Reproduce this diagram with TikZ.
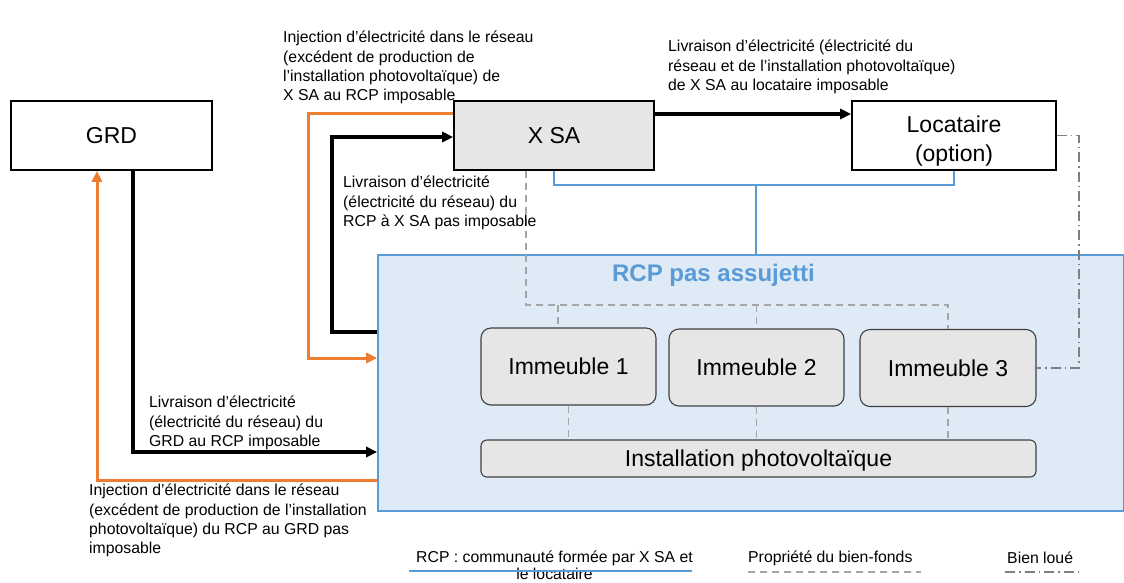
\documentclass[tikz,border=0pt]{standalone}
\usepackage{fontspec}
\setmainfont{Liberation Sans}
\usetikzlibrary{arrows.meta}
\definecolor{orng}{HTML}{ED7D31}
\definecolor{bblue}{HTML}{5B9BD5}
\definecolor{rcpfill}{HTML}{DEEAF6}
\definecolor{boxgray}{HTML}{E7E6E6}
\definecolor{dgray}{HTML}{A5A5A5}
\definecolor{ddgray}{HTML}{7F7F7F}
\begin{document}
\begin{tikzpicture}[x=1pt,y=-1pt,
 box/.style={draw=black,line width=1.6pt,minimum height=69pt,inner sep=0pt,text height=16.5pt,text depth=0pt,font=\fontsize{23}{29}\selectfont},
 bldg/.style={draw=black!75,line width=1.1pt,fill=boxgray,rounded corners=10pt,inner sep=0pt,text height=16.5pt,text depth=0pt,font=\fontsize{23}{29}\selectfont},
 lbl/.style={anchor=north west,inner sep=0pt,align=left,font=\fontsize{15.8}{19.3}\selectfont},
 leg/.style={inner sep=0pt,font=\fontsize{15.8}{17}\selectfont},
 blk/.style={line width=3.5pt,black,-{Triangle[length=11pt,width=10pt]}},
 org/.style={line width=3pt,orng,-{Triangle[length=11pt,width=10pt]}},
 bl/.style={line width=1.6pt,bblue},
 prop/.style={line width=1.6pt,dgray,dash pattern=on 7pt off 5pt},
 lease/.style={line width=1.6pt,ddgray,dash pattern=on 10pt off 4pt on 1.5pt off 4pt}
]
\useasboundingbox (0,0) rectangle (1124,582);

% RCP area
\node[draw=bblue,line width=1.6pt,fill=rcpfill,minimum width=746pt,minimum height=256pt,inner sep=0pt] (RCP) at (751,383) {};
\node[anchor=base,inner sep=0pt,font=\bfseries\fontsize{24}{29}\selectfont,text=bblue] (RCPt) at (713.5,281.6) {RCP pas assujetti};

% top boxes
\node[box,minimum width=201pt] (GRD) at (111.5,135.5) {GRD};
\node[box,fill=boxgray,minimum width=200pt] (XSA) at (554,135.5) {X SA};
\node[box,minimum width=204pt] (Loc) at (954,135.5) {};
\node[inner sep=0pt,align=center,font=\fontsize{23}{29}\selectfont] (LocT) at (954,140.7) {Locataire\\(option)};

% buildings
\node[bldg,minimum width=175pt,minimum height=77pt] (I1) at (568.5,366.5) {Immeuble 1};
\node[bldg,minimum width=175pt,minimum height=77pt] (I2) at (756.5,367.5) {Immeuble 2};
\node[bldg,minimum width=176pt,minimum height=77pt] (I3) at (948,368) {Immeuble 3};
\node[bldg,minimum width=555pt,minimum height=37pt,rounded corners=6pt] (PV) at (758.5,458.5) {Installation photovolta\"ique};

% blue RCP bracket
\draw[bl] (XSA.south) |- (Loc.south |- 0,185) -- (Loc.south);
\draw[bl] (756,185) -- (RCP.north -| 756,0);

% property (dashed)
\draw[prop] (XSA.south -| 526,0) |- (I3.north |- 0,305) -- (I3.north);
\draw[prop] (558,305) -- (I1.north -| 558,0);
\draw[prop] (I2.north |- 0,305) -- (I2.north);
\draw[prop] (I1.south) -- (PV.north -| I1.south);
\draw[prop] (I2.south) -- (PV.north -| I2.south);
\draw[prop] (I3.south) -- (PV.north -| I3.south);

% leased (dash-dot)
\draw[lease] (Loc.east) -- (1079,135.5) -- (1079,368) -- (I3.east);

% flows
\draw[blk] (XSA.east |- 0,114) -- (Loc.west |- 0,114);
\draw[blk] (GRD.south -| 133,0) -- (133,452) -- (RCP.west |- 0,452);
\draw[org] (RCP.west |- 0,480) -- (97,480) -- (GRD.south -| 97,0);
\draw[org] (XSA.west |- 0,113) -- (308,113) -- (308,358) -- (RCP.west |- 0,358);
\draw[blk] (RCP.west |- 0,332) -- (332,332) -- (332,137) -- (XSA.west |- 0,137);

% labels
\node[lbl] (L1) at (283,31) {Injection d’électricité dans le réseau\\(excédent de production de\\l’installation photovoltaïque) de\\X SA au RCP imposable};
\node[lbl] (L2) at (668,40) {Livraison d’électricité (électricité du\\réseau et de l’installation photovoltaïque)\\de X SA au locataire imposable};
\node[lbl] (L3) at (343,176) {Livraison d’électricité\\(électricité du réseau) du\\RCP à X SA pas imposable};
\node[lbl] (L4) at (149,396) {Livraison d’électricité\\(électricité du réseau) du\\GRD au RCP imposable};
\node[lbl] (L5) at (89,484) {Injection d’électricité dans le réseau\\(excédent de production de l’installation\\photovoltaïque) du RCP au GRD pas\\imposable};

% legend
\node[leg,align=center,anchor=north] (LegA) at (554.5,551) {RCP : communauté formée par X SA et\\le locataire};
\coordinate (la1) at (409,571); \coordinate (la2) at (692,571);
\draw[bl] (la1) -- (la2);
\node[leg,anchor=base west] (LegB) at (748,562.6) {Propriété du bien-fonds};
\coordinate (lb1) at (748,572); \coordinate (lb2) at (921,572);
\draw[prop] (lb1) -- (lb2);
\node[leg,anchor=base west] (LegC) at (1007,563) {Bien loué};
\coordinate (lc1) at (1005,572); \coordinate (lc2) at (1080,572);
\draw[lease] (lc1) -- (lc2);
\end{tikzpicture}
\end{document}
